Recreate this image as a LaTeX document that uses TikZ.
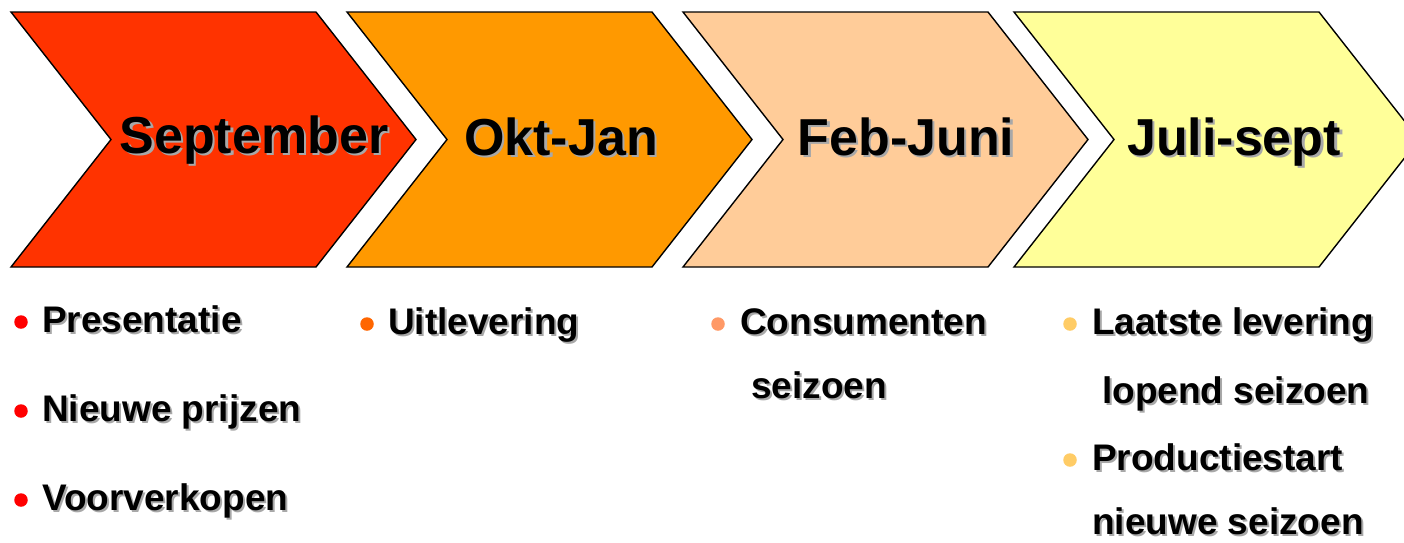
\documentclass[tikz,border=0pt]{standalone}
\usepackage{fontspec}
\setmainfont{Liberation Sans}
\definecolor{c1}{HTML}{FF3300}
\definecolor{c2}{HTML}{FF9900}
\definecolor{c3}{HTML}{FFCC99}
\definecolor{c4}{HTML}{FFFF99}
\definecolor{d1}{HTML}{FF0000}
\definecolor{d2}{HTML}{FF6600}
\definecolor{d3}{HTML}{FF9966}
\definecolor{d4}{HTML}{FFCC66}
\definecolor{shade}{HTML}{A8A8A8}
\newcommand\chev[2]{%
  \draw[chevbox, fill=#2] (#1,12) -- ++(305,0) -- ++(100,127.5) -- ++(-100,127.5) -- ++(-305,0) -- ++(100,-127.5) -- cycle;}
\newcommand\shtitle[3]{%
  \node[titletxt, text=shade, xshift=2.5pt, yshift=-2.5pt] at (#2) {#3};
  \node[titletxt] (#1) at (#2) {#3};}
\newcommand\shbul[3]{%
  \node[bultxt, text=shade, xshift=2pt, yshift=-2pt] at (#2) {#3};
  \node[bultxt] (#1) at (#2) {#3};}
\begin{document}
\begin{tikzpicture}[x=1pt, y=-1pt,
  chevbox/.style={draw=black, line width=1.4pt, line join=miter},
  titletxt/.style={inner sep=0pt, anchor=base, font=\fontsize{52}{60}\selectfont\bfseries, text=black},
  bultxt/.style={inner sep=0pt, anchor=base west, font=\fontsize{37}{42}\selectfont\bfseries, text=black},
  dotmark/.style={circle, inner sep=0pt, minimum size=13.5pt}]
\useasboundingbox (0,0) rectangle (1404,542);
\clip (0,0) rectangle (1404,542);
\fill[white] (0,0) rectangle (1404,542);
\chev{11}{c1}
\chev{347}{c2}
\chev{683}{c3}
\chev{1014}{c4}
\shtitle{t1}{254,153}{September}
\shtitle{t2}{561,155}{Okt-Jan}
\shtitle{t3}{906,155}{Feb-Juni}
\shtitle{t4}{1234,155}{Juli-sept}
% column 1
\node[dotmark, fill=d1] (p1) at (21,322) {};
\node[dotmark, fill=d1] (p2) at (21,411) {};
\node[dotmark, fill=d1] (p3) at (21,500) {};
\shbul{b1}{42,332}{Presentatie}
\shbul{b2}{42,421}{Nieuwe prijzen}
\shbul{b3}{42,510}{Voorverkopen}
% column 2
\node[dotmark, fill=d2] (q1) at (367,324) {};
\shbul{u1}{388,334}{Uitlevering}
% column 3
\node[dotmark, fill=d3] (r1) at (718,324) {};
\shbul{c1a}{740,334}{Consumenten}
\shbul{c1b}{751,398}{seizoen}
% column 4
\node[dotmark, fill=d4] (s1) at (1070,324) {};
\node[dotmark, fill=d4] (s2) at (1070,460) {};
\shbul{l1a}{1092,334}{Laatste levering}
\shbul{l1b}{1102,403}{lopend seizoen}
\shbul{l2a}{1092,470}{Productiestart}
\shbul{l2b}{1092,534}{nieuwe seizoen}
\end{tikzpicture}
\end{document}
